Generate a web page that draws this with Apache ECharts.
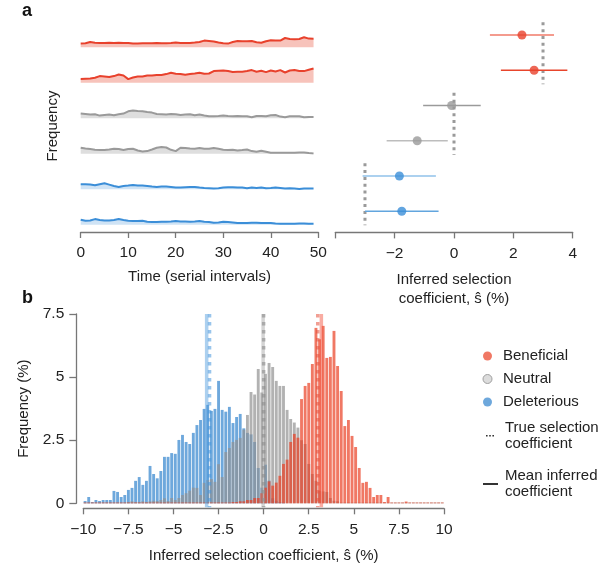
<!DOCTYPE html>
<html><head><meta charset="utf-8">
<script src="https://cdn.jsdelivr.net/npm/echarts@6/dist/echarts.min.js"></script>
<style>html,body{margin:0;padding:0;background:#fff}#c{width:610px;height:570px}</style>
</head><body><div id="c"></div>
<script>
// ---------- Panel a: frequency trajectories ----------
const timePoints = [0,1,2,3,4,5,6,7,8,9,10,11,12,13,14,15,16,17,18,19,20,21,22,23,24,25,26,27,28,29,30,31,32,33,34,35,36,37,38,39,40,41,42,43,44,45,46,47,48,49];
const traceBeneficial1 = [3.7,4.0,5.3,4.5,4.3,4.3,4.5,4.3,4.5,4.3,4.3,3.7,3.7,4.0,4.0,4.0,4.3,4.0,4.0,4.3,4.7,4.3,4.3,4.3,4.7,5.3,6.7,6.3,5.7,4.7,4.0,3.7,5.3,6.3,6.0,6.0,6.3,5.0,4.5,6.0,7.0,6.7,6.7,9.3,8.3,8.0,8.3,10.0,8.7,8.5];
const traceBeneficial2 = [3.7,4.0,4.3,5.0,6.7,6.3,5.7,6.7,8.3,7.3,3.7,5.3,6.3,6.3,7.3,7.3,7.7,7.7,8.7,10.0,9.0,8.7,8.0,8.7,9.3,10.0,9.0,9.3,11.7,12.0,12.3,11.7,10.7,11.0,11.0,11.7,12.7,11.0,12.0,10.7,12.3,11.3,12.7,10.3,12.3,12.7,11.7,11.7,13.0,14.3];
const traceNeutral1 = [4.7,4.3,3.7,4.0,2.7,3.3,3.7,3.0,4.0,4.7,7.0,7.7,7.3,7.0,6.3,5.7,4.3,4.0,3.7,4.3,4.0,3.3,3.7,4.0,3.0,3.7,2.7,2.0,2.0,2.3,2.7,2.3,2.0,2.3,2.0,2.0,1.0,2.3,2.3,2.0,3.0,3.3,1.7,1.0,2.0,2.0,2.0,1.0,1.3,1.3];
const traceNeutral2 = [6.0,5.3,4.7,4.0,3.7,3.7,4.3,5.0,4.7,3.7,4.7,5.0,3.3,2.3,2.7,4.3,6.0,6.7,6.3,4.0,2.7,6.0,5.7,5.3,5.0,5.7,5.0,5.0,5.7,5.0,4.0,3.7,4.0,3.3,3.7,4.3,2.7,2.0,3.0,2.0,1.0,1.0,1.0,1.0,1.0,1.0,1.3,1.3,0.7,0.3];
const traceDeleterious1 = [5.0,5.0,4.7,4.0,5.0,6.0,4.7,3.3,2.3,3.3,3.7,4.3,3.7,3.7,3.3,2.7,2.3,2.7,2.7,2.3,1.7,1.7,2.0,2.3,2.3,1.7,1.3,1.0,0.7,1.0,1.7,2.0,2.0,1.7,1.7,1.0,1.7,1.3,1.7,1.0,1.3,1.7,1.3,0.7,1.0,0.7,0.3,0.7,0.7,0.7];
const traceDeleterious2 = [5.0,4.0,4.3,5.7,4.7,4.3,4.3,4.7,5.7,4.7,4.0,3.7,3.7,4.0,3.0,2.7,2.7,3.0,3.0,3.3,3.7,3.3,3.3,3.0,3.3,3.7,3.0,2.7,2.0,2.3,3.0,2.7,2.3,1.7,1.7,1.7,2.0,2.0,1.7,1.7,1.7,1.3,1.0,1.0,1.0,1.0,1.3,1.3,1.0,1.0];
const traces = [traceBeneficial1, traceBeneficial2, traceNeutral1, traceNeutral2, traceDeleterious1, traceDeleterious2];
const traceClass = [0,0,1,1,2,2];
const timeTicks = [0,10,20,30,40,50];

// ---------- Panel a: inferred coefficients ----------
const forestEstimate = [2.29, 2.70, -0.08, -1.24, -1.84, -1.76];
const forestLow      = [1.21, 1.58, -1.04, -2.27, -3.08, -3.00];
const forestHigh     = [3.37, 3.82,  0.90, -0.21, -0.61, -0.52];
const forestClass    = [0,0,1,1,2,2];
const forestTicks = [-4,-2,0,2,4];

// ---------- Panel b: histograms ----------
const classNames = ['Beneficial','Neutral','Deleterious'];
const trueCoefficients = [3, 0, -3];
const meanInferred = [3.2, -0.03, -3.16];
const binStarts = Array.from({length:100}, (_, i) => +(-10 + 0.2*i).toFixed(1));
const histDeleterious = [0.09,0.25,0.05,0.13,0.09,0.13,0.13,0.13,0.49,0.45,0.25,0.33,0.53,0.61,0.89,1.04,0.73,0.89,1.48,1.16,
 0.99,1.28,1.84,1.84,1.99,1.96,2.51,2.71,2.43,2.35,2.79,3.10,3.30,3.74,3.90,3.66,3.74,4.85,3.70,3.63,
 3.82,3.18,3.42,3.54,2.97,2.79,2.73,2.43,1.40,0.62,1.53,0.90,0.20,0.10,0.05,0.03,0,0,0,0,
 0,0,0,0,0,0,0,0,0,0,0,0,0,0,0,0,0,0,0,0,
 0,0,0,0,0,0,0,0,0,0,0,0,0,0,0,0,0,0,0,0];
const histNeutral = [0.03,0.03,0.03,0.03,0.03,0.03,0.03,0.03,0.03,0.03,0.03,0.03,0.05,0.08,0.05,0.05,0.08,0.05,0.08,0.10,
 0.09,0.13,0.20,0.09,0.21,0.13,0.21,0.33,0.40,0.50,0.62,0.61,0.33,0.81,0.92,0.96,0.85,1.55,1.04,2.03,
 2.19,2.43,2.51,2.59,2.92,3.50,4.41,4.31,5.32,4.39,5.13,5.56,5.40,4.85,4.65,4.65,3.70,3.34,3.20,3.00,
 2.50,2.35,1.56,1.16,0.89,0.50,0.47,0.45,0.21,0.10,0.08,0.03,0.03,0.03,0.03,0.03,0.03,0.03,0.03,0.03,
 0.03,0.03,0.03,0.03,0.03,0.03,0.03,0.03,0.03,0.03,0.03,0.03,0.03,0.03,0.03,0.03,0.03,0.03,0.03,0.03];
const histBeneficial = [0.03,0.03,0.03,0.03,0.03,0.03,0.03,0.03,0.03,0.03,0.03,0.03,0.03,0.03,0.03,0.03,0.03,0.03,0.03,0.03,
 0.03,0.03,0.03,0.03,0.03,0.03,0.03,0.03,0.03,0.03,0.03,0.03,0.03,0.03,0.03,0.03,0.03,0.03,0.03,0.03,
 0.03,0.05,0.05,0.08,0.08,0.13,0.13,0.21,0.21,0.40,0.62,0.87,0.70,0.82,1.09,1.56,1.73,2.43,2.75,2.60,
 4.13,4.65,4.77,5.52,6.95,6.50,7.03,5.76,5.80,6.83,5.44,4.45,3.06,3.30,2.67,2.23,1.40,0.81,0.85,0.61,
 0.25,0.33,0.33,0.05,0.25,0.03,0.03,0.03,0.03,0.07,0.03,0.03,0.03,0.03,0.03,0.03,0.03,0.03,0.03,0.03];
const histTicks = [-10,-7.5,-5,-2.5,0,2.5,5,7.5,10];
const freqTicks = [0,2.5,5,7.5];

// ---------- styling ----------
const FONT = 'Liberation Sans, Arial, Helvetica, sans-serif';
const lineColors = ['#e8412c','#9a9a9a','#3b8ed8'];
const fillColors = ['#f7c3bb','#dedede','#cfe3f5'];
const pointColors = ['#e8412c','#9a9a9a','#3b8ed8'];
const ciColors = ['#f07a68','#e8452c','#9a9a9a','#bdbdbd','#90c2ea','#62a5de'];
const barColors = ['rgba(234,62,34,0.7)','rgba(145,145,145,0.7)','rgba(49,131,205,0.7)'];
const meanColors = ['rgba(244,90,70,0.5)','rgba(160,160,160,0.45)','rgba(70,150,220,0.45)'];
const trueColors = ['rgba(230,80,60,0.55)','rgba(140,140,140,0.6)','rgba(70,150,220,0.55)'];
const axisColor = '#777';
const txt = '#222';
const minus = v => String(v).replace('-', '\u2212');

const traceBottoms = [47.3, 82.8, 118.3, 153.8, 189.3, 224.8];
const grids = [];
const xAxes = [];
const yAxes = [];
const series = [];
traceBottoms.forEach((b, k) => {
  grids.push({left: 80.7, right: 291.7, top: b - 30, height: 30});
  xAxes.push({type:'value', gridIndex:k, min:0, max:50, show:false});
  yAxes.push({type:'value', gridIndex:k, min:0, max:30, show:false});
  const c = traceClass[k];
  series.push({type:'line', xAxisIndex:k, yAxisIndex:k, silent:true, showSymbol:false,
    data: timePoints.map((t, i) => [t, traces[k][i]]),
    lineStyle:{width:2, color:lineColors[c]}, areaStyle:{color:fillColors[c], opacity:1}});
});
const axCommon = () => ({
  axisLine:{show:true, onZero:false, lineStyle:{color:axisColor, width:1.3}},
  axisTick:{show:true, length:6, lineStyle:{color:axisColor, width:1.3}},
  splitLine:{show:false},
  nameTextStyle:{color:txt, fontSize:15, fontFamily:FONT},
});
// grid 6: time axis
grids.push({left:80.7, right:291.7, top:20, bottom:338});
xAxes.push(Object.assign(axCommon(), {type:'value', gridIndex:6, position:'bottom', min:0, max:50, interval:10,
  axisLabel:{color:txt, fontSize:15.5, fontFamily:FONT, margin:13},
  name:'Time (serial intervals)', nameLocation:'middle', nameGap:37}));
yAxes.push({type:'value', gridIndex:6, min:0, max:1, axisLine:{show:false}, axisTick:{show:false},
  axisLabel:{show:false}, splitLine:{show:false}, name:'Frequency', nameLocation:'middle', nameGap:20,
  nameTextStyle:{color:txt, fontSize:15, fontFamily:FONT}});
// grid 7: forest plot
grids.push({left:335.3, right:37.3, top:17.4, height:215});
xAxes.push(Object.assign(axCommon(), {type:'value', gridIndex:7, position:'bottom', min:-4, max:4, interval:2,
  axisLabel:{color:txt, fontSize:15.5, fontFamily:FONT, margin:13, formatter: v => v === -4 ? '' : minus(v)},
  name:'Inferred selection\ncoefficient, \u015D (%)', nameLocation:'middle', nameGap:38}));
xAxes[7].nameTextStyle = {color:txt, fontSize:15, fontFamily:FONT, lineHeight:19};
yAxes.push({type:'value', gridIndex:7, min:-0.5, max:5.6, inverse:true, show:false});
// grid 8: histogram
grids.push({left:83.3, right:166, top:314, bottom:66.7});
xAxes.push({type:'category', gridIndex:8, position:'top', data:binStarts, show:false, boundaryGap:true});
xAxes.push(Object.assign(axCommon(), {type:'value', gridIndex:8, position:'bottom', min:-10, max:10, interval:2.5, offset:5,
  axisLabel:{color:txt, fontSize:15.5, fontFamily:FONT, margin:13, formatter: v => minus(v)},
  name:'Inferred selection coefficient, \u015D (%)', nameLocation:'middle', nameGap:40}));
yAxes.push(Object.assign(axCommon(), {type:'value', gridIndex:8, position:'left', min:0, max:7.5, interval:2.5, offset:7,
  axisLabel:{color:txt, fontSize:15.5, fontFamily:FONT, margin:12},
  name:'Frequency (%)', nameLocation:'middle', nameGap:40}));
yAxes[8].axisTick = {show:true, length:7, lineStyle:{color:axisColor, width:1.3}};

// forest: true coefficient dotted lines
series.push({type:'custom', xAxisIndex:7, yAxisIndex:7, silent:true, z:1,
  data: trueCoefficients.map((v, k) => [v, 2*k - 0.36, 2*k + 1.4]),
  renderItem: (p, api) => {
    const a = api.coord([api.value(0), api.value(1)]);
    const b = api.coord([api.value(0), api.value(2)]);
    return {type:'line', shape:{x1:a[0], y1:a[1], x2:b[0], y2:b[1]},
      style:{stroke:'#9a9a9a', lineWidth:3, lineDash:[3,3.8]}};
  }});
// forest: CI lines
series.push({type:'custom', xAxisIndex:7, yAxisIndex:7, silent:true, z:2,
  data: forestLow.map((l, i) => [l, forestHigh[i], i]),
  renderItem: (p, api) => {
    const a = api.coord([api.value(0), api.value(2)]);
    const b = api.coord([api.value(1), api.value(2)]);
    return {type:'line', shape:{x1:a[0], y1:a[1], x2:b[0], y2:b[1]},
      style:{stroke:ciColors[api.value(2)], lineWidth:1.6}};
  }});
// forest: points
series.push({type:'scatter', xAxisIndex:7, yAxisIndex:7, silent:true, z:3, symbolSize:9,
  data: forestEstimate.map((v, i) => ({value:[v, i], itemStyle:{color:pointColors[forestClass[i]]}}))});

// histogram bars (deleterious, neutral, beneficial on top)
const histSeries = [[2, histDeleterious], [1, histNeutral], [0, histBeneficial]];
histSeries.forEach(([c, arr]) => {
  series.push({type:'bar', name:classNames[c], xAxisIndex:8, yAxisIndex:8, data:arr,
    barWidth:'80%', barGap:'-100%', silent:true, itemStyle:{color:barColors[c]}});
});
// histogram: mean inferred (solid) and true (dotted) lines
series.push({type:'custom', name:'Mean inferred coefficient', xAxisIndex:9, yAxisIndex:8, silent:true, z:5,
  itemStyle:{color:'#333'},
  data: meanInferred.map((v, k) => [v, k]),
  renderItem: (p, api) => {
    const a = api.coord([api.value(0), 7.5]);
    const b = api.coord([api.value(0), 0]);
    return {type:'line', shape:{x1:a[0], y1:a[1], x2:b[0], y2:b[1] + 4},
      style:{stroke:meanColors[api.value(1)], lineWidth:3.5}};
  }});
series.push({type:'custom', name:'True selection coefficient', xAxisIndex:9, yAxisIndex:8, silent:true, z:6,
  itemStyle:{color:'#333'},
  data: trueCoefficients.map((v, k) => [v, k]),
  renderItem: (p, api) => {
    const a = api.coord([api.value(0), 7.5]);
    const b = api.coord([api.value(0), 0]);
    return {type:'line', shape:{x1:a[0], y1:a[1], x2:b[0], y2:b[1] + 4},
      style:{stroke:trueColors[api.value(1)], lineWidth:3.5, lineDash:[3.5,4.5]}};
  }});

const legendText = {color:txt, fontSize:15, fontFamily:FONT, lineHeight:16};
const chart = echarts.init(document.getElementById('c'), null, {renderer:'canvas'});
chart.setOption({
  animation:false,
  backgroundColor:'#fff',
  textStyle:{fontFamily:FONT},
  grid:grids, xAxis:xAxes, yAxis:yAxes, series:series,
  legend:[
    {orient:'vertical', left:477.5, top:343, itemWidth:15, itemHeight:9, itemGap:7, selectedMode:false,
     textStyle:Object.assign({padding:[0,0,0,3]}, legendText),
     data:[{name:'Beneficial', icon:'circle'},
           {name:'Neutral', icon:'circle', itemStyle:{color:'#dcdcdc', borderColor:'#a0a0a0', borderWidth:1}},
           {name:'Deleterious', icon:'circle'}]},
    {orient:'vertical', left:481, top:414.7, itemWidth:8, itemHeight:2, selectedMode:false,
     textStyle:Object.assign({padding:[0,0,0,6]}, legendText),
     formatter: n => n.replace(' coefficient', '\ncoefficient'),
     data:[{name:'True selection coefficient', icon:'path://M0,0h1.5v1.5h-1.5z M3,0h1.5v1.5h-1.5z M6,0h1.5v1.5h-1.5z', itemStyle:{color:'#333'}}]},
    {orient:'vertical', left:478, top:463, itemWidth:15, itemHeight:2, selectedMode:false,
     textStyle:Object.assign({padding:[0,0,0,2]}, legendText),
     formatter: n => n.replace(' coefficient', '\ncoefficient'),
     data:[{name:'Mean inferred coefficient', icon:'path://M0,0h15v2h-15z', itemStyle:{color:'#333'}}]}
  ],
  graphic:[
    {type:'text', left:22, top:2, style:{text:'a', font:'bold 18px ' + FONT, fill:'#111'}},
    {type:'text', left:22, top:289, style:{text:'b', font:'bold 18px ' + FONT, fill:'#111'}}
  ]
});
</script></body></html>
